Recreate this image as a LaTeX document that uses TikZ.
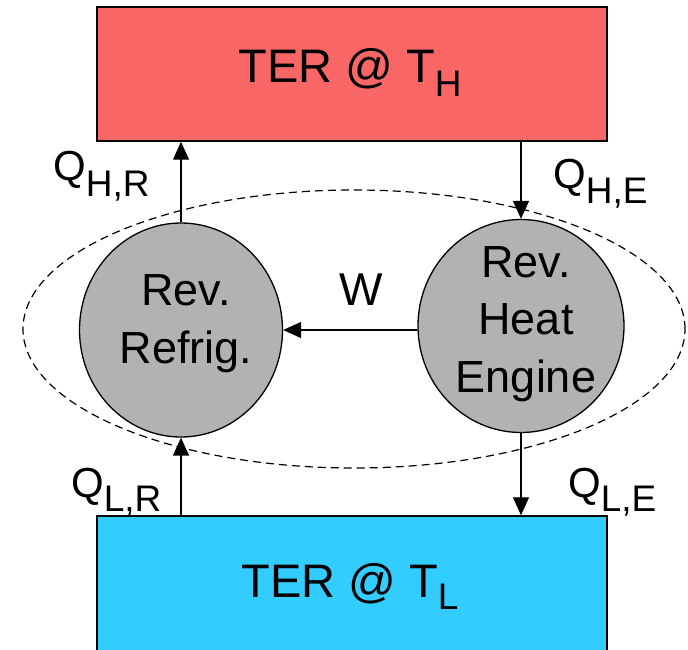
\documentclass[tikz,border=0pt]{standalone}
\usepackage{fontspec}
\setmainfont{Liberation Sans}
\usetikzlibrary{shapes.geometric,arrows.meta}
\definecolor{hotred}{HTML}{F86666}
\definecolor{coldblue}{HTML}{33CCFF}
\definecolor{devgray}{HTML}{B2B2B2}
\newcommand{\lowsub}[2]{\raisebox{-#1pt}{\fontsize{37}{40}\selectfont #2}}
\tikzset{
  reservoir/.style={draw=black, line width=1.5pt, minimum width=510pt, inner sep=0pt},
  device/.style={ellipse, draw=black, line width=1.3pt, fill=devgray, inner sep=0pt},
  flow/.style={line width=1.4pt, -{Triangle[width=16pt,length=18pt]}},
  qlabel/.style={anchor=base west, inner sep=0pt, font=\fontsize{42}{44}\selectfont},
  titletext/.style={anchor=base, inner sep=0pt, font=\fontsize{47}{50}\selectfont},
  devtext/.style={align=center, inner sep=0pt, font=\fontsize{45}{57.5}\selectfont},
  boundary/.style={ellipse, draw=black, line width=1.2pt, dash pattern=on 8pt off 5pt, inner sep=0pt}
}
\begin{document}
\begin{tikzpicture}[x=1pt,y=-1pt]
\useasboundingbox (0,0) rectangle (688,650);
\clip (0,0) rectangle (688,650);
% reservoirs
\node[reservoir, fill=hotred, minimum height=134pt] (hot) at (352,74) {};
\node[reservoir, fill=coldblue, minimum height=160pt] (cold) at (352,596) {};
\node[titletext] (hottext) at (350,83) {TER @ T\lowsub{14}{H}};
\node[titletext] (coldtext) at (350,597) {TER @ T\lowsub{12}{L}};
% system boundary
\node[boundary, minimum width=662pt, minimum height=278pt] (sys) at (354,329) {};
% devices
\node[device, minimum width=203pt, minimum height=214pt] (ref) at (181,330) {};
\node[device, minimum width=206pt, minimum height=213pt] (eng) at (521,326) {};
\node[devtext] (reftext) at (186,323.5) {Rev.\\Refrig.};
\node[devtext] (engtext) at (526,324) {Rev.\\Heat\\Engine};
% heat flows
\draw[flow] (ref.north) -- (ref.north |- hot.south);
\draw[flow] (eng.north |- hot.south) -- (eng.north);
\draw[flow] (ref.south |- cold.north) -- (ref.south);
\draw[flow] (eng.south) -- (eng.south |- cold.north);
\draw[flow] (ref.east -| eng.west) -- (ref.east);
% labels
\node[anchor=base, inner sep=0pt, font=\fontsize{46}{48}\selectfont] (w) at (361,305) {W};
\node[qlabel] (qhr) at (53,180) {Q\lowsub{16}{H,R}};
\node[qlabel] (qhe) at (553,188) {Q\lowsub{15}{H,E}};
\node[qlabel] (qlr) at (71,497) {Q\lowsub{14}{L,R}};
\node[qlabel] (qle) at (568,497) {Q\lowsub{14}{L,E}};
\end{tikzpicture}
\end{document}
